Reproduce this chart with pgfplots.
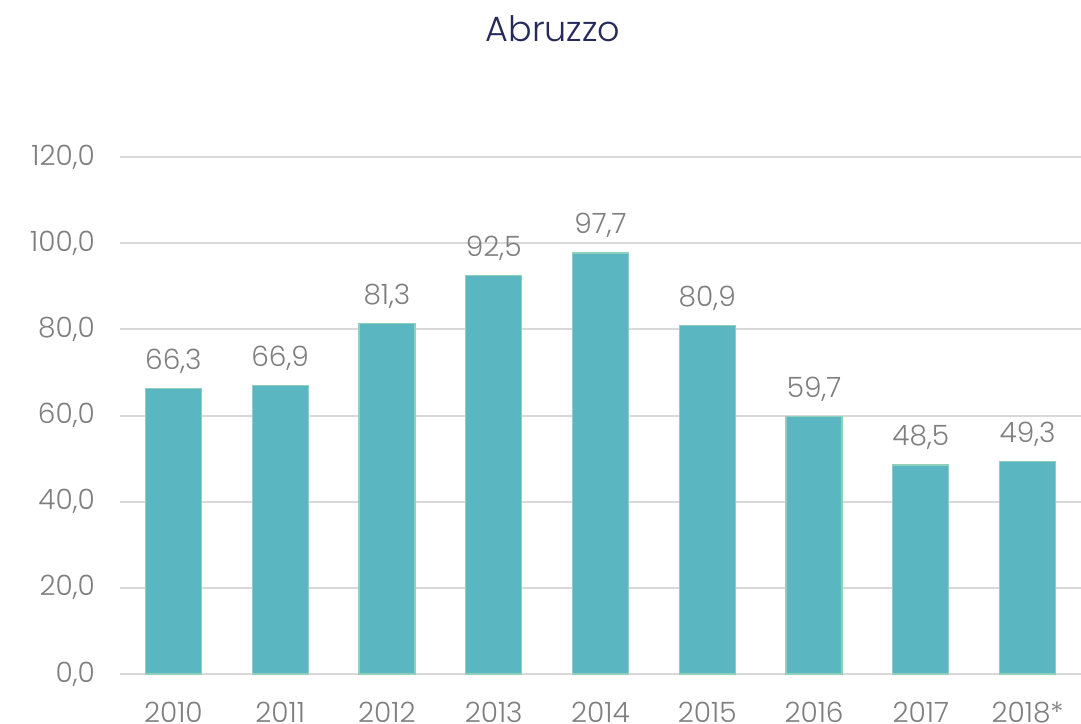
\documentclass[border=0pt]{standalone}
\usepackage{pgfplots}
\pgfplotsset{compat=1.18}
\usepackage{fontspec}
\setmainfont{Poppins}[UprightFont=* Light]
\definecolor{barfill}{HTML}{5AB6C0}
\definecolor{baredge}{HTML}{8FD0BC}
\definecolor{gridc}{HTML}{D9D9D9}
\definecolor{labc}{HTML}{7F7F7F}
\definecolor{titlec}{HTML}{262A5A}

\begin{document}
\begin{tikzpicture}
\begin{axis}[
    at={(0,0)}, anchor=south west,
    scale only axis,
    width=480.5pt, height=258.5pt,
    ybar, bar width=28pt,
    xmin=-0.5, xmax=8.5,
    ymin=0, ymax=120,
    ytick={0,20,...,120},
    xtick=data,
    xticklabels={2010,2011,2012,2013,2014,2015,2016,2017,2018*},
    axis x line*=bottom,
    axis y line*=left,
    y axis line style={draw=none},
    x axis line style={gridc, line width=1pt, -},
    ymajorgrids,
    grid style={gridc, line width=1pt},
    major tick length=0pt,
    tick style={draw=none},
    tick label style={font=\fontsize{14}{16}\selectfont, text=labc},
    yticklabel style={xshift=-9pt},
    xticklabel style={yshift=-10.5pt},
    /pgf/number format/.cd, use comma, fixed, fixed zerofill, precision=1, assume math mode=true,
    /pgfplots/.cd,
    nodes near coords,
    every node near coord/.append style={font=\fontsize{14}{16}\selectfont, text=labc, yshift=4pt},
    clip=false,
]
\addplot[fill=barfill, draw=baredge, line width=0.6pt] coordinates {
    (0,66.3) (1,66.9) (2,81.3) (3,92.5) (4,97.7)
    (5,80.9) (6,59.7) (7,48.5) (8,49.3)
};
\node[font=\fontsize{17.5}{20}\selectfont, text=titlec, anchor=base]
    at (rel axis cs:0.4506,1) [yshift=57.5pt] {Abruzzo};
\end{axis}
\pgfresetboundingbox
\useasboundingbox (-60pt,-24.5pt) rectangle (480.5pt,337pt);
\end{tikzpicture}
\end{document}
